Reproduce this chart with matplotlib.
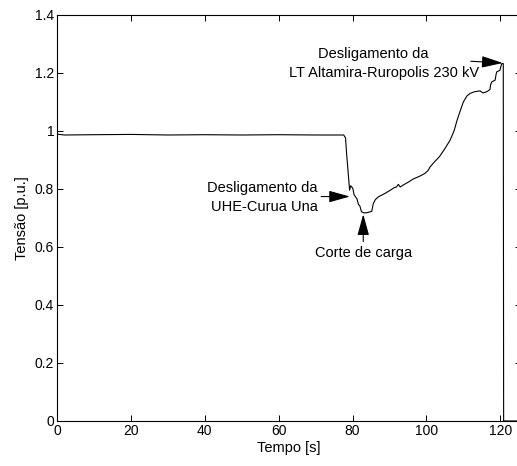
import matplotlib
matplotlib.use("Agg")
import matplotlib.pyplot as plt

plt.rcParams['font.family'] = ['Liberation Sans', 'DejaVu Sans']

# Voltage trace at the bus (p.u.) over time (s)
tempo = [0, 2, 10, 20, 30, 40, 50, 60, 70, 77.6, 78.1, 78.4, 79.2, 79.5, 79.8,
         80.1, 80.4, 80.8, 81.2, 81.6, 82.0, 82.4, 83.0, 83.8, 84.6, 85.2, 85.6,
         86.2, 87.0, 88.5, 90.0, 91.2, 91.9, 92.4, 92.9, 93.5, 95.0, 96.5, 98.0,
         99.5, 100.4, 101.0, 102.0, 103.5, 105.0, 106.4, 107.5, 108.3, 109.2,
         110.0, 111.0, 111.8, 113.0, 114.5, 115.3, 115.9, 116.6, 117.2, 117.4,
         117.7, 118.6, 118.8, 119.0, 119.9, 120.1, 120.4, 120.8, 120.9, 121.1,
         125.5]
tensao = [0.988, 0.985, 0.986, 0.987, 0.985, 0.986, 0.985, 0.986, 0.985, 0.985,
          0.975, 0.92, 0.795, 0.810, 0.806, 0.800, 0.780, 0.772, 0.765, 0.746,
          0.740, 0.721, 0.717, 0.717, 0.720, 0.722, 0.748, 0.763, 0.772, 0.782,
          0.793, 0.803, 0.806, 0.815, 0.806, 0.811, 0.822, 0.834, 0.842, 0.852,
          0.862, 0.875, 0.890, 0.910, 0.938, 0.967, 1.000, 1.036, 1.070, 1.099,
          1.120, 1.128, 1.134, 1.137, 1.130, 1.132, 1.136, 1.142, 1.160, 1.168,
          1.174, 1.190, 1.202, 1.208, 1.218, 1.231, 1.231, 0.0, 0.0, 0.0]

x_ticks = [0, 20, 40, 60, 80, 100, 120]
y_ticks = [0, 0.2, 0.4, 0.6, 0.8, 1.0, 1.2, 1.4]
y_tick_labels = ['0', '0.2', '0.4', '0.6', '0.8', '1', '1.2', '1.4']

fig = plt.figure(figsize=(5.17, 4.66), dpi=100)
ax = fig.add_axes([57 / 517, 45 / 466, 464 / 517, 406.5 / 466])

ax.plot(tempo, tensao, color='black', linewidth=0.8)

ax.set_xlim(0, 125.6)
ax.set_ylim(0, 1.4)
ax.set_xticks(x_ticks)
ax.set_yticks(y_ticks)
ax.set_yticklabels(y_tick_labels)
ax.tick_params(direction='in', length=4, width=0.7, top=True, right=True,
               labelsize=10, pad=2, colors='black')
for s in ax.spines.values():
    s.set_linewidth(0.8)

ax.set_xlabel('Tempo [s]', fontsize=10.5, labelpad=2)
ax.set_ylabel('Tensão [p.u.]', fontsize=10.5, labelpad=4)

arrow_kw = dict(arrowstyle='-|>,head_length=1.3,head_width=0.36',
                color='black', lw=0.8, mutation_scale=10,
                shrinkA=0, shrinkB=0)
fs = 10.5

# LT Altamira-Ruropolis trip
ax.annotate('', xy=(120.65, 1.233), xytext=(112.0, 1.239), arrowprops=arrow_kw)
ax.text(85.6, 1.263, 'Desligamento da', ha='center', va='center', fontsize=fs)
ax.text(88.6, 1.200, 'LT Altamira-Ruropolis 230 kV', ha='center', va='center',
        fontsize=fs)

# UHE-Curua Una trip
ax.annotate('', xy=(79.3, 0.773), xytext=(71.5, 0.773), arrowprops=arrow_kw)
ax.text(70.4, 0.802, 'Desligamento da', ha='right', va='center', fontsize=fs)
ax.text(70.6, 0.738, 'UHE-Curua Una', ha='right', va='center', fontsize=fs)

# Load shedding
ax.annotate('', xy=(82.9, 0.712), xytext=(82.9, 0.618), arrowprops=arrow_kw)
ax.text(83.1, 0.578, 'Corte de carga', ha='center', va='center', fontsize=fs)

fig.savefig('out.png', dpi=100)
